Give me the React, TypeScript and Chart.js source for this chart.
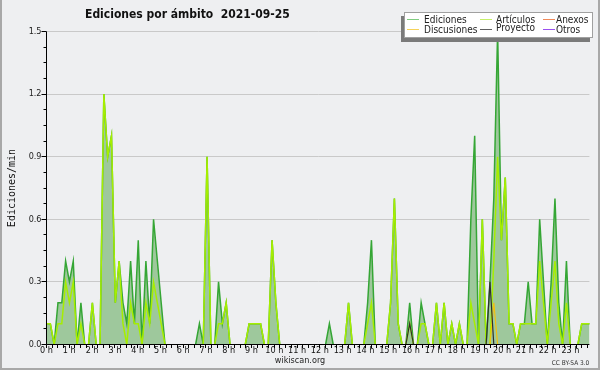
import { useEffect, useRef } from 'react';
import { Chart, registerables } from 'chart.js';

Chart.register(...registerables);

const FONT = "'DejaVu Sans Condensed', 'DejaVu Sans', sans-serif";
const MONO = "'DejaVu Sans Mono', monospace";
const BG = '#eeeff1';

const TITLE = 'Ediciones por ámbito  2021-09-25';
const Y_TITLE = 'Ediciones/min';
const HOURS = [0, 1, 2, 3, 4, 5, 6, 7, 8, 9, 10, 11, 12, 13, 14, 15, 16, 17, 18, 19, 20, 21, 22, 23];
const Y_TICKS = [0, 0.3, 0.6, 0.9, 1.2, 1.5];

// 144 ten-minute samples (edits per minute)
const EDICIONES = [
  0.1, 0.1, 0, 0.2, 0.2, 0.4, 0.3, 0.4, 0, 0.2, 0, 0,
  0.2, 0, 0, 1.2, 0.9, 1.0, 0.2, 0.4, 0.2, 0.1, 0.4, 0.1,
  0.5, 0, 0.4, 0.1, 0.6, 0.4, 0.2, 0, 0, 0, 0, 0,
  0, 0, 0, 0, 0.1, 0, 0.9, 0, 0, 0.3, 0.1, 0.2,
  0, 0, 0, 0, 0, 0.1, 0.1, 0.1, 0.1, 0, 0, 0.5,
  0.2, 0, 0, 0, 0, 0, 0, 0, 0, 0, 0, 0,
  0, 0, 0.1, 0, 0, 0, 0, 0.2, 0, 0, 0, 0,
  0.2, 0.5, 0, 0, 0, 0, 0.2, 0.7, 0.1, 0, 0, 0.2,
  0, 0, 0.2, 0.1, 0, 0, 0.2, 0, 0.2, 0, 0.1, 0,
  0.1, 0, 0, 0.6, 1.0, 0, 0.6, 0, 0.3, 0.7, 1.5, 0.5,
  0.8, 0.1, 0.1, 0, 0.1, 0.1, 0.3, 0.1, 0.1, 0.6, 0.3, 0,
  0.3, 0.7, 0.2, 0, 0.4, 0, 0, 0, 0.1, 0.1, 0.1, 0.1,
];
const ARTICULOS = [
  0.1, 0.1, 0, 0.1, 0.1, 0.3, 0.2, 0.3, 0, 0.1, 0, 0,
  0.2, 0, 0, 1.2, 0.9, 1.0, 0.2, 0.4, 0.1, 0, 0.2, 0.1,
  0.1, 0, 0.2, 0.1, 0.3, 0.2, 0.1, 0, 0, 0, 0, 0,
  0, 0, 0, 0, 0, 0, 0.9, 0, 0, 0.1, 0.1, 0.2,
  0, 0, 0, 0, 0, 0.1, 0.1, 0.1, 0.1, 0, 0, 0.5,
  0.2, 0, 0, 0, 0, 0, 0, 0, 0, 0, 0, 0,
  0, 0, 0, 0, 0, 0, 0, 0.2, 0, 0, 0, 0,
  0.1, 0.2, 0, 0, 0, 0, 0.2, 0.7, 0.1, 0, 0, 0.1,
  0, 0, 0.1, 0.1, 0, 0, 0.2, 0, 0.2, 0, 0.1, 0,
  0.1, 0, 0, 0.2, 0.1, 0, 0.6, 0, 0, 0.4, 0.9, 0.5,
  0.8, 0.1, 0.1, 0, 0.1, 0.1, 0.1, 0.1, 0.1, 0.4, 0.2, 0,
  0.2, 0.4, 0.1, 0, 0.2, 0, 0, 0, 0.1, 0.1, 0.1, 0.1,
];
const ANEXOS = [
  0, 0, 0, 0, 0, 0, 0, 0, 0, 0, 0, 0,
  0, 0, 0, 0, 0, 0, 0, 0, 0, 0, 0, 0,
  0, 0, 0, 0, 0, 0, 0, 0, 0, 0, 0, 0,
  0, 0, 0, 0, 0, 0, 0, 0, 0, 0, 0, 0,
  0, 0, 0, 0, 0, 0, 0, 0, 0, 0, 0, 0,
  0, 0, 0, 0, 0, 0, 0, 0, 0, 0, 0, 0,
  0, 0, 0, 0, 0, 0, 0, 0, 0, 0, 0, 0,
  0, 0, 0, 0, 0, 0, 0, 0, 0, 0, 0, 0,
  0, 0, 0, 0, 0, 0, 0, 0, 0, 0, 0, 0,
  0, 0, 0, 0, 0, 0, 0, 0, 0, 0, 0, 0,
  0, 0, 0, 0, 0, 0, 0, 0, 0, 0, 0, 0,
  0, 0, 0, 0, 0, 0, 0, 0, 0, 0, 0, 0,
];
const DISCUSIONES = [
  0, 0, 0, 0, 0, 0, 0, 0, 0, 0, 0, 0,
  0, 0, 0, 0, 0, 0, 0, 0, 0, 0, 0, 0,
  0, 0, 0, 0, 0, 0, 0, 0, 0, 0, 0, 0,
  0, 0, 0, 0, 0, 0, 0, 0, 0, 0, 0, 0,
  0, 0, 0, 0, 0, 0, 0, 0, 0, 0, 0, 0,
  0, 0, 0, 0, 0, 0, 0, 0, 0, 0, 0, 0,
  0, 0, 0, 0, 0, 0, 0, 0, 0, 0, 0, 0,
  0, 0, 0, 0, 0, 0, 0, 0, 0, 0, 0, 0,
  0, 0, 0, 0, 0, 0, 0, 0, 0, 0, 0, 0,
  0, 0, 0, 0, 0, 0, 0, 0, 0, 0.2, 0, 0,
  0, 0, 0, 0, 0, 0, 0, 0, 0, 0, 0, 0,
  0, 0, 0, 0, 0, 0, 0, 0, 0, 0, 0, 0,
];
const PROYECTO = [
  0, 0, 0, 0, 0, 0, 0, 0, 0, 0, 0, 0,
  0, 0, 0, 0, 0, 0, 0, 0, 0, 0, 0, 0,
  0, 0, 0, 0, 0, 0, 0, 0, 0, 0, 0, 0,
  0, 0, 0, 0, 0, 0, 0, 0, 0, 0, 0, 0,
  0, 0, 0, 0, 0, 0, 0, 0, 0, 0, 0, 0,
  0, 0, 0, 0, 0, 0, 0, 0, 0, 0, 0, 0,
  0, 0, 0, 0, 0, 0, 0, 0, 0, 0, 0, 0,
  0, 0, 0, 0, 0, 0, 0, 0, 0, 0, 0, 0.1,
  0, 0, 0, 0, 0, 0, 0, 0, 0, 0, 0, 0,
  0, 0, 0, 0, 0, 0, 0, 0, 0.3, 0, 0, 0,
  0, 0, 0, 0, 0, 0, 0, 0, 0, 0, 0, 0,
  0, 0, 0, 0, 0, 0, 0, 0, 0, 0, 0, 0,
];
const OTROS = [
  0, 0, 0, 0, 0, 0, 0, 0, 0, 0, 0, 0,
  0, 0, 0, 0, 0, 0, 0, 0, 0, 0, 0, 0,
  0, 0, 0, 0, 0, 0, 0, 0, 0, 0, 0, 0,
  0, 0, 0, 0, 0, 0, 0, 0, 0, 0, 0, 0,
  0, 0, 0, 0, 0, 0, 0, 0, 0, 0, 0, 0,
  0, 0, 0, 0, 0, 0, 0, 0, 0, 0, 0, 0,
  0, 0, 0, 0, 0, 0, 0, 0, 0, 0, 0, 0,
  0, 0, 0, 0, 0, 0, 0, 0, 0, 0, 0, 0,
  0, 0, 0, 0, 0, 0, 0, 0, 0, 0, 0, 0,
  0, 0, 0, 0, 0, 0, 0, 0, 0, 0, 0, 0,
  0, 0, 0, 0, 0, 0, 0, 0, 0, 0, 0, 0,
  0, 0, 0, 0, 0, 0, 0, 0, 0, 0, 0, 0,
];

const SERIES = [
  { label: 'Ediciones', data: EDICIONES, color: '#35a635', legend: '#80cc80', width: 1.5, order: 6, fill: true },
  { label: 'Artículos', data: ARTICULOS, color: '#a6ee00', legend: '#c6ef6a', width: 1.5, order: 5, fill: false },
  { label: 'Anexos', data: ANEXOS, color: '#f07a40', legend: '#f08a5a', width: 1.2, order: 4, fill: false },
  { label: 'Discusiones', data: DISCUSIONES, color: '#f2c010', legend: '#f5d25a', width: 1.2, order: 3, fill: false },
  { label: 'Proyecto', data: PROYECTO, color: '#2f2f2f', legend: '#606060', width: 1.2, order: 2, fill: false },
  { label: 'Otros', data: OTROS, color: '#9a40f0', legend: '#9a50f0', width: 1.2, order: 1, fill: false },
];

const X_MAX = 23 + 50 / 60;
const SAMPLE_HOURS = 24 / 143;

const axesPlugin = {
  id: 'axesOnTop',
  afterDatasetsDraw(chart: any) {
    const { ctx, chartArea, scales } = chart;
    const { left, right, top, bottom } = chartArea;
    const xs = scales.x;
    const ys = scales.y;
    const lx = Math.floor(left) + 0.5;
    const by = Math.floor(bottom) + 0.5;
    ctx.save();
    ctx.strokeStyle = '#000';
    ctx.lineWidth = 1;
    ctx.beginPath();
    ctx.moveTo(lx, Math.floor(top) + 0.5);
    ctx.lineTo(lx, by);
    ctx.lineTo(right, by);
    // x ticks every 15 minutes
    for (let m = 0; m <= X_MAX * 60 + 0.01; m += 15) {
      const px = Math.floor(xs.getPixelForValue(m / 60)) + 0.5;
      ctx.moveTo(px, by);
      ctx.lineTo(px, by + 3.5);
    }
    // y ticks every 0.075
    for (let k = 0; k <= 20; k++) {
      const py = Math.floor(ys.getPixelForValue(k * 0.075)) + 0.5;
      const len = k % 4 === 0 ? 5 : 3;
      ctx.moveTo(lx - len, py);
      ctx.lineTo(lx, py);
    }
    ctx.stroke();
    ctx.restore();
  },
};

const legendPos = [
  { lineX: 407, textX: 424, row: 0, dy: 0 },
  { lineX: 480, textX: 496, row: 0, dy: 0 },
  { lineX: 543, textX: 556, row: 0, dy: 0 },
  { lineX: 407, textX: 424, row: 1, dy: 0 },
  { lineX: 480, textX: 496, row: 1, dy: -2 },
  { lineX: 543, textX: 556, row: 1, dy: 0 },
];
const LEGEND_ORDER = ['Ediciones', 'Artículos', 'Anexos', 'Discusiones', 'Proyecto', 'Otros'];

export default function App() {
  const ref = useRef<HTMLCanvasElement>(null);

  useEffect(() => {
    document.body.style.margin = '0';
    const canvas = ref.current;
    if (!canvas) return;
    const datasets = SERIES.map((s) => ({
      label: s.label,
      data: s.data.map((v, i) => ({ x: i * SAMPLE_HOURS, y: v })),
      borderColor: s.color,
      borderWidth: s.width,
      backgroundColor: s.fill ? 'rgb(158,200,156)' : 'transparent',
      fill: s.fill ? 'origin' : false,
      order: s.order,
      pointRadius: 0,
      tension: 0,
      segment: {
        borderColor: (c: any) => (c.p0.parsed.y === 0 && c.p1.parsed.y === 0 ? 'rgba(0,0,0,0)' : undefined),
      },
    }));
    const chart = new Chart(canvas, {
      type: 'line',
      data: { datasets },
      plugins: [axesPlugin],
      options: {
        animation: false,
        responsive: false,
        devicePixelRatio: 1,
        events: [],
        layout: { padding: { left: 0, top: 31.5, right: 10.6, bottom: 0 } },
        plugins: {
          legend: { display: false },
          tooltip: { enabled: false },
          title: { display: false },
        },
        scales: {
          x: {
            type: 'linear',
            min: 0,
            max: X_MAX,
            afterBuildTicks: (scale: any) => {
              scale.ticks = HOURS.map((h) => ({ value: h }));
            },
            afterFit: (scale: any) => {
              scale.height = 25.5;
            },
            grid: { display: false, drawTicks: false },
            border: { display: false },
            ticks: {
              autoSkip: false,
              maxRotation: 0,
              minRotation: 0,
              padding: 0.5,
              color: '#111',
              font: { family: FONT, size: 9 },
              callback: (v: any) => `${v} h`,
            },
          },
          y: {
            type: 'linear',
            min: 0,
            max: 1.5,
            afterBuildTicks: (scale: any) => {
              scale.ticks = Y_TICKS.map((v) => ({ value: v }));
            },
            afterFit: (scale: any) => {
              scale.width = 46.5;
            },
            grid: { color: '#c9c9c9', lineWidth: 1, drawTicks: false },
            border: { display: false },
            ticks: {
              padding: 5,
              color: '#222',
              font: { family: FONT, size: 9 },
              callback: (v: any) => Number(v).toFixed(1),
            },
          },
        },
      },
    });
    return () => chart.destroy();
  }, []);

  return (
    <div style={{ position: 'relative', width: 600, height: 370, background: BG, overflow: 'hidden', fontFamily: FONT }}>
      <canvas ref={ref} width={600} height={370} style={{ position: 'absolute', left: 0, top: 0, width: 600, height: 370 }} />
      <div
        style={{
          position: 'absolute', left: 0, top: 0, width: 600, height: 370, boxSizing: 'border-box',
          borderLeft: '2px solid #a8a8a8', borderRight: '2px solid #a8a8a8', borderBottom: '2px solid #a8a8a8',
          pointerEvents: 'none',
        }}
      />
      <div style={{ position: 'absolute', left: 85, top: 6.5, fontSize: 12, lineHeight: '14px', fontWeight: 'bold', color: '#111', whiteSpace: 'pre' }}>
        {TITLE}
      </div>
      <div
        style={{
          position: 'absolute', left: -38, top: 182, width: 100, height: 12, lineHeight: '12px', fontSize: 10,
          fontFamily: MONO, color: '#111', textAlign: 'center', transform: 'rotate(-90deg)', whiteSpace: 'pre',
        }}
      >
        {Y_TITLE}
      </div>
      <div
        style={{
          position: 'absolute', left: 404, top: 12, width: 189, height: 26, boxSizing: 'border-box',
          border: '1px solid #a0a0a0', background: '#ffffff', boxShadow: '-3px 4px 0 #7a7a7a',
        }}
      />
      {LEGEND_ORDER.map((name, idx) => {
        const s = SERIES.find((d) => d.label === name)!;
        const p = legendPos[idx];
        const lineY = p.row === 0 ? 19 : 29;
        const textTop = (p.row === 0 ? 13.5 : 24) + p.dy;
        return (
          <div key={name}>
            <div style={{ position: 'absolute', left: p.lineX, top: lineY, width: 12, height: 0, borderTop: `1px solid ${s.legend}` }} />
            <div style={{ position: 'absolute', left: p.textX, top: textTop, fontSize: 10, lineHeight: '12px', color: '#222', whiteSpace: 'pre' }}>
              {name}
            </div>
          </div>
        );
      })}
      <div style={{ position: 'absolute', left: 0, top: 355.4, width: 600, textAlign: 'center', fontSize: 9, lineHeight: '11px', color: '#222' }}>
        wikiscan.org
      </div>
      <div style={{ position: 'absolute', right: 10.7, top: 358.8, fontSize: 6.5, lineHeight: '8px', color: '#333', whiteSpace: 'pre' }}>
        CC BY-SA 3.0
      </div>
    </div>
  );
}
